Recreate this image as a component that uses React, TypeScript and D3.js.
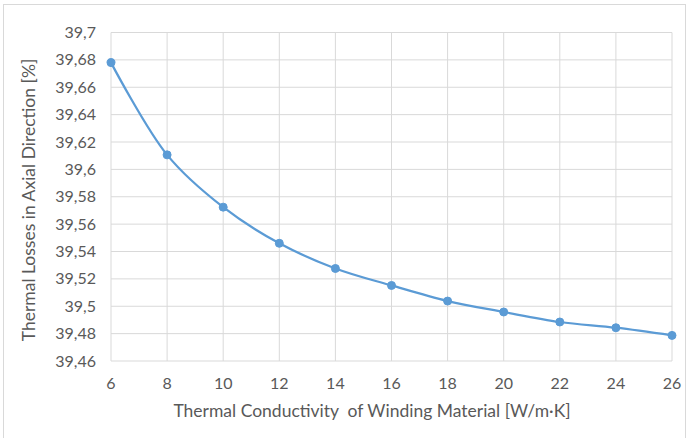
import React from "react";
import * as d3 from "d3";

const xValues = [6, 8, 10, 12, 14, 16, 18, 20, 22, 24, 26];
const yValues = [39.678, 39.6106, 39.5724, 39.546, 39.5276, 39.5152, 39.5038, 39.4958, 39.4885, 39.4843, 39.4787];
const xTicks = [6, 8, 10, 12, 14, 16, 18, 20, 22, 24, 26];
const yTicks = [39.46, 39.48, 39.5, 39.52, 39.54, 39.56, 39.58, 39.6, 39.62, 39.64, 39.66, 39.68, 39.7];
const xTitle = "Thermal Conductivity  of Winding Material [W/m·K]";
const yTitle = "Thermal Losses in Axial Direction [%]";

const W = 687;
const H = 438;
const plot = { left: 111, right: 672, top: 32.5, bottom: 361 };
const font = "Lato, 'Open Sans', sans-serif";
const textColor = "#595959";
const gridColor = "#D9D9D9";
const lineColor = "#5B9BD5";

const fmt = (v: number) => {
  const s = String(Math.round(v * 100) / 100);
  return s.replace(".", ",");
};

export default function App() {
  const x = d3.scaleLinear().domain([6, 26]).range([plot.left, plot.right]);
  const y = d3.scaleLinear().domain([39.46, 39.7]).range([plot.bottom, plot.top]);
  const pts: [number, number][] = xValues.map((v, i) => [v, yValues[i]]);
  const line = d3
    .line<[number, number]>()
    .x((d) => x(d[0]))
    .y((d) => y(d[1]))
    .curve(d3.curveCatmullRom.alpha(0.5));

  return (
    <svg
      width={W}
      height={H}
      style={{ position: "absolute", left: 0, top: 0, background: "#fff" }}
      fontFamily={font}
    >
      <rect x={3.5} y={4.5} width={682} height={440} fill="#fff" stroke={gridColor} strokeWidth={1} />
      {yTicks.map((t) => (
        <line key={"gy" + t} x1={plot.left} x2={plot.right} y1={y(t)} y2={y(t)} stroke={gridColor} strokeWidth={1} />
      ))}
      {xTicks.map((t) => (
        <line key={"gx" + t} x1={x(t)} x2={x(t)} y1={plot.top} y2={plot.bottom} stroke={gridColor} strokeWidth={1} />
      ))}
      {yTicks.map((t) => (
        <text
          key={"ty" + t}
          x={96}
          y={y(t)}
          dy="0.35em"
          textAnchor="end"
          fontSize={16}
          fill={textColor}
        >
          {fmt(t)}
        </text>
      ))}
      {xTicks.map((t) => (
        <text key={"tx" + t} x={x(t)} y={383} dy="0.35em" textAnchor="middle" fontSize={16} fill={textColor}>
          {fmt(t)}
        </text>
      ))}
      <path d={line(pts) || ""} fill="none" stroke={lineColor} strokeWidth={2.25} />
      {pts.map((p, i) => (
        <circle key={"m" + i} cx={x(p[0])} cy={y(p[1])} r={4} fill={lineColor} stroke={lineColor} />
      ))}
      <text x={372} y={417} textAnchor="middle" fontSize={17.5} fill={textColor} style={{ whiteSpace: "pre" }}>
        {xTitle}
      </text>
      <text
        transform={`translate(35,200) rotate(-90)`}
        textAnchor="middle"
        fontSize={17.5}
        fill={textColor}
      >
        {yTitle}
      </text>
    </svg>
  );
}
